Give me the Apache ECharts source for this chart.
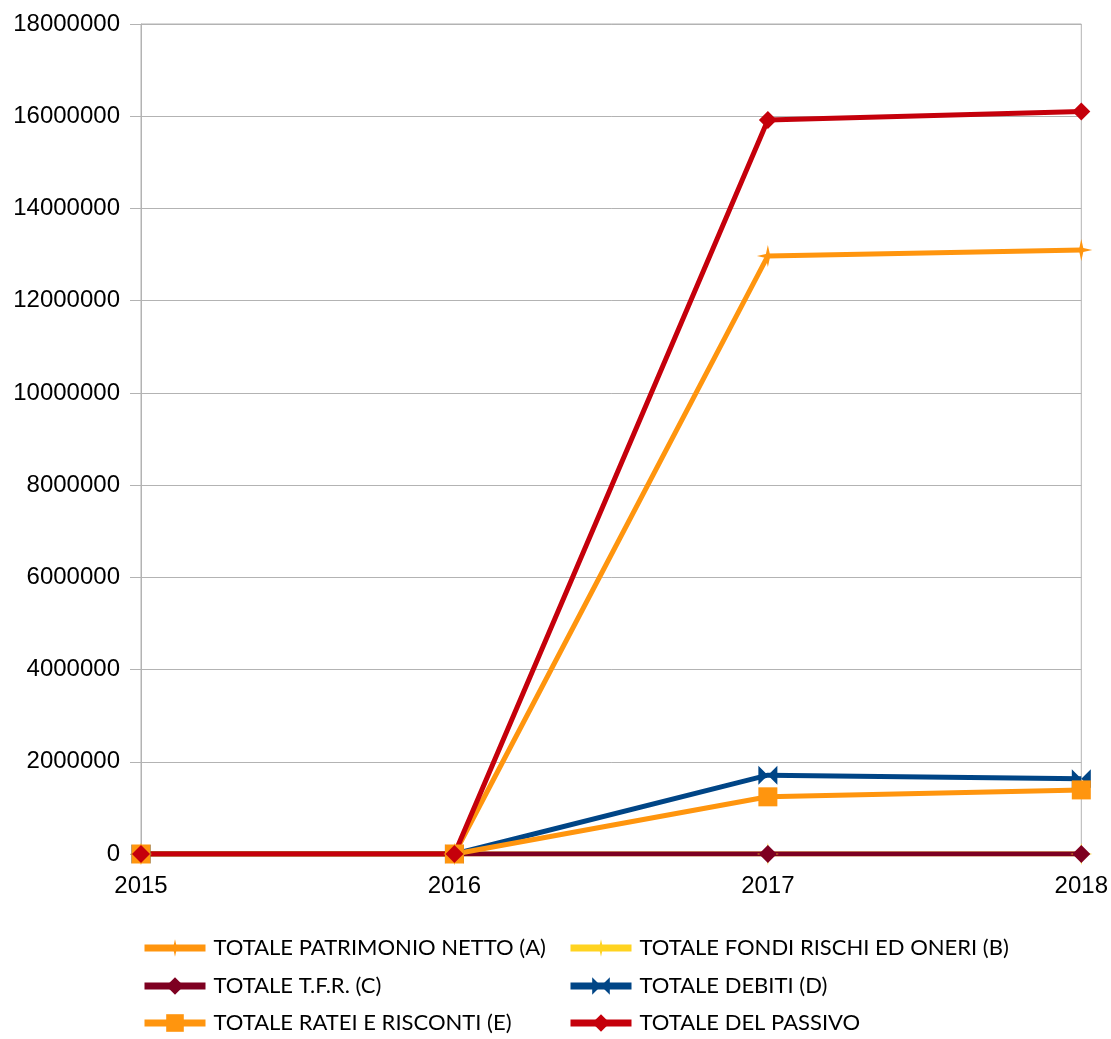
<!DOCTYPE html>
<html>
<head>
<meta charset="utf-8">
<script src="https://cdn.jsdelivr.net/npm/echarts@6/dist/echarts.min.js"></script>
<style>
  html, body { margin: 0; padding: 0; background: #fff; }
  #main { width: 1111px; height: 1039px; }
</style>
</head>
<body>
<div id="main"></div>
<script>
// dati
var anni = ['2015', '2016', '2017', '2018'];
var patrimonioNetto = [0, 0, 12970000, 13100000];
var fondiRischi = [0, 0, 0, 0];
var tfr = [0, 0, 0, 0];
var debiti = [0, 0, 1710000, 1630000];
var rateiRisconti = [0, 0, 1240000, 1390000];
var totalePassivo = [0, 0, 15920000, 16100000];
var nomi = ['TOTALE PATRIMONIO NETTO (A)', 'TOTALE FONDI RISCHI ED ONERI (B)', 'TOTALE T.F.R. (C)',
	'TOTALE DEBITI (D)', 'TOTALE RATEI E RISCONTI (E)', 'TOTALE DEL PASSIVO'];

var star4 = 'path://M0,-10 L1.8,-1.8 L10,0 L1.8,1.8 L0,10 L-1.8,1.8 L-10,0 L-1.8,-1.8 Z';
var bowtie = 'path://M0,0 L-10,-9 L-10,9 Z M0,0 L10,-9 L10,9 Z';

function serie(nome, dati, colore, simbolo, dim) {
	return {
		name: nome,
		type: 'line',
		data: dati,
		symbol: simbolo,
		symbolSize: dim,
		showAllSymbol: true,
		color: colore,
		lineStyle: { width: 5, color: colore },
		itemStyle: { color: colore }
	};
}

// una legenda per voce, due colonne
function voce(nome, x, y) {
	return {
		left: x,
		top: y,
		padding: 0,
		itemWidth: 61,
		itemHeight: 22,
		itemGap: 0,
		lineStyle: { width: 7 },
		textStyle: { fontFamily: 'Lato', fontSize: 22, color: '#000', padding: [0, 0, 0, 3] },
		data: [nome]
	};
}

var myChart = echarts.init(document.getElementById('main'));
var option = {
	animation: false,
	textStyle: { fontFamily: 'Liberation Sans' },
	grid: {
		left: 141,
		right: 28,
		top: 24,
		bottom: 185,
		show: true,
		borderColor: '#b3b3b3',
		borderWidth: 1
	},
	legend: [
		voce(nomi[0], 141, 937),
		voce(nomi[1], 567, 937),
		voce(nomi[2], 141, 975),
		voce(nomi[3], 567, 975),
		voce(nomi[4], 141, 1012),
		voce(nomi[5], 567, 1012)
	],
	xAxis: {
		type: 'category',
		boundaryGap: false,
		data: anni,
		axisLine: { show: true, lineStyle: { color: '#b3b3b3' } },
		axisTick: { show: false },
		axisLabel: { color: '#000', fontSize: 24, margin: 20 },
		splitLine: { show: false }
	},
	yAxis: {
		type: 'value',
		min: 0,
		max: 18000000,
		interval: 2000000,
		axisLine: { show: true, lineStyle: { color: '#b3b3b3' } },
		axisTick: { show: true, length: 11, lineStyle: { color: '#b3b3b3' } },
		axisLabel: { color: '#000', fontSize: 24, margin: 21, formatter: function (v) { return String(v); } },
		splitLine: { lineStyle: { color: '#b3b3b3' } }
	},
	series: [
		serie(nomi[0], patrimonioNetto, '#ff950e', star4, 22),
		serie(nomi[1], fondiRischi, '#ffd320', star4, 22),
		serie(nomi[2], tfr, '#7e0021', 'diamond', 18),
		serie(nomi[3], debiti, '#004586', bowtie, 19),
		serie(nomi[4], rateiRisconti, '#ff950e', 'rect', 19),
		serie(nomi[5], totalePassivo, '#c5000b', 'diamond', 18)
	]
};
myChart.setOption(option);
</script>
</body>
</html>
